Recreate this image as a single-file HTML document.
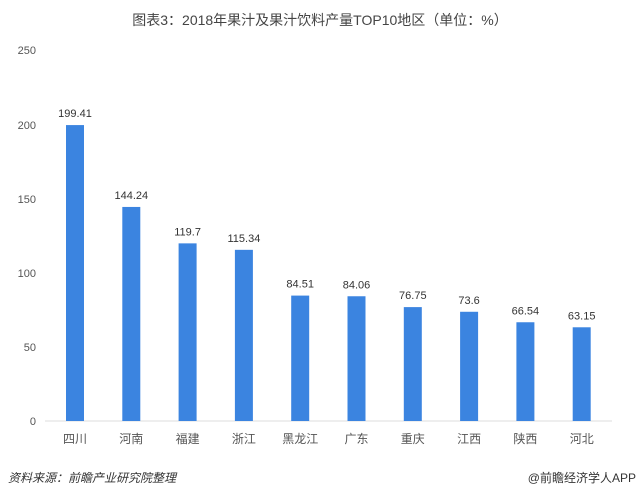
<!DOCTYPE html>
<html><head><meta charset="utf-8"><style>
body{margin:0;background:#fff;}
svg text{font-family:"Liberation Sans","Noto Sans CJK SC",sans-serif;}
</style></head><body>
<svg width="640" height="498" viewBox="0 0 640 498" xmlns="http://www.w3.org/2000/svg">
<rect width="640" height="498" fill="#fff"/>
<text x="320" y="25" text-anchor="middle" font-size="14" fill="#444">图表3：2018年果汁及果汁饮料产量TOP10地区（单位：%）</text>
<g font-size="11" fill="#555" text-anchor="end">
<text x="36" y="54">250</text>
<text x="36" y="129">200</text>
<text x="36" y="203">150</text>
<text x="36" y="277">100</text>
<text x="36" y="351">50</text>
<text x="36" y="425">0</text>
</g>
<line x1="45" y1="421" x2="612" y2="421" stroke="#ddd" stroke-width="1"/>
<g fill="#3b84e0" id="bars"></g>
<g font-size="11" fill="#333" text-anchor="middle" id="vals"></g>
<g font-size="12" fill="#555" text-anchor="middle" id="cats"></g>
<text x="8" y="482" font-size="12" fill="#333" font-style="italic">资料来源：前瞻产业研究院整理</text>
<text x="636" y="482" font-size="12" fill="#333" text-anchor="end">@前瞻经济学人APP</text>
<script>
var d=[["四川",199.41],["河南",144.24],["福建",119.7],["浙江",115.34],["黑龙江",84.51],["广东",84.06],["重庆",76.75],["江西",73.6],["陕西",66.54],["河北",63.15]];
var ns="http://www.w3.org/2000/svg";
d.forEach(function(e,i){
 var cx=75+i*56.3, h=e[1]*1.484, y=421-h;
 var r=document.createElementNS(ns,"rect");
 r.setAttribute("x",cx-9);r.setAttribute("y",y);r.setAttribute("width",18);r.setAttribute("height",h);
 document.getElementById("bars").appendChild(r);
 var t=document.createElementNS(ns,"text");t.setAttribute("x",cx);t.setAttribute("y",y-8);t.textContent=e[1];
 document.getElementById("vals").appendChild(t);
 var c=document.createElementNS(ns,"text");c.setAttribute("x",cx);c.setAttribute("y",443);c.textContent=e[0];
 document.getElementById("cats").appendChild(c);
});
</script>
</svg>
</body></html>
